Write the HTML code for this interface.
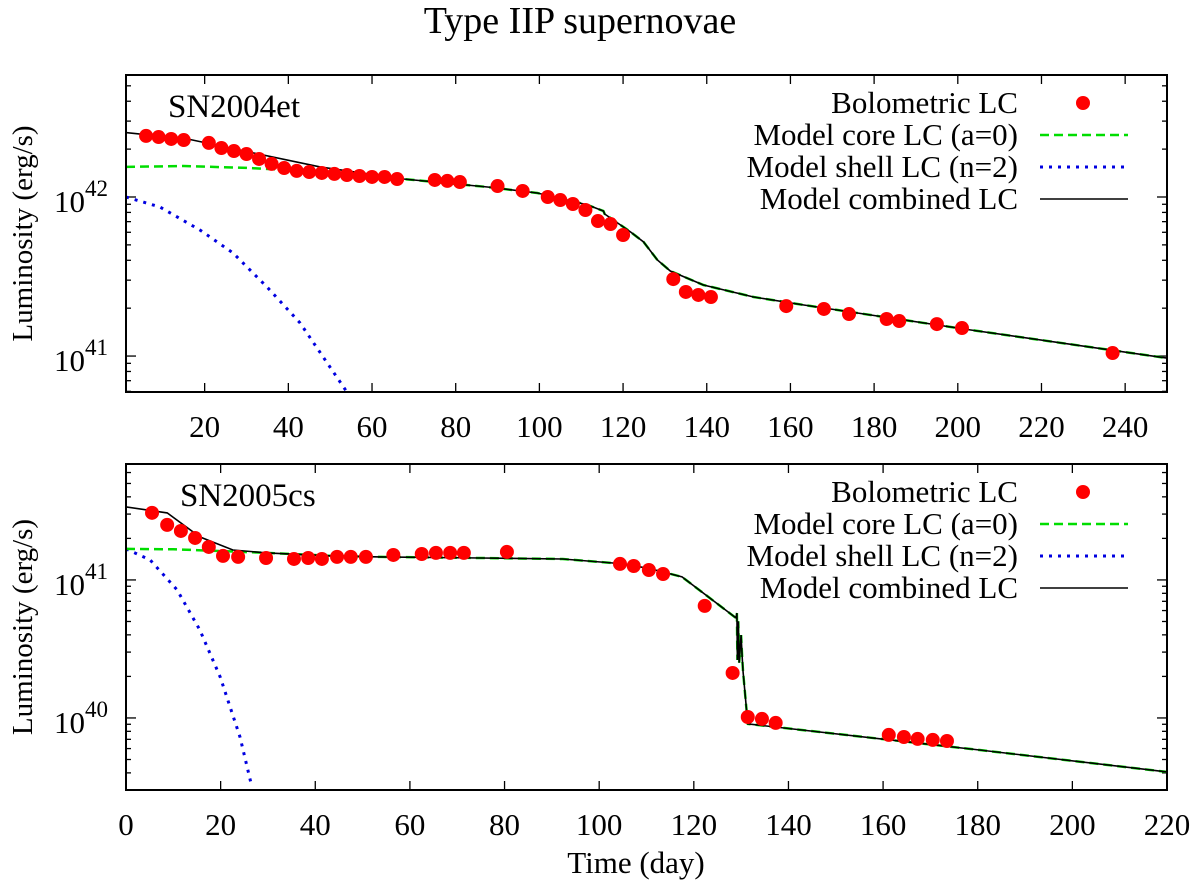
<!DOCTYPE html>
<html><head><meta charset="utf-8"><title>Type IIP supernovae</title>
<style>html,body{margin:0;padding:0;background:#fff}svg{display:block}svg text{font-family:"Liberation Serif","DejaVu Serif",serif !important;fill:#000}</style>
</head><body>
<svg id="chart" width="1200" height="892" viewBox="0 0 1200 892" xmlns="http://www.w3.org/2000/svg" font-family="Liberation Serif, DejaVu Serif, serif">
<text x="580" y="33" font-size="38" text-anchor="middle" font-family="Liberation Serif, serif">Type IIP supernovae</text>
<text x="636" y="873" font-size="31" text-anchor="middle" font-family="Liberation Serif, serif">Time (day)</text>
</svg>
<script>
// ---- Panel 1: SN2004et ----
const p1ObsDays=[6,9,12,15,21,24,27,30,33,36,39,42,45,48,51,54,57,60,63,66,75,78,81,90,96,102,105,108,111,114,117,120,132,135,138,141,159,168,174,183,186,195,201,237];
const p1ObsLog=[42.384,42.377,42.365,42.358,42.340,42.308,42.289,42.270,42.239,42.208,42.182,42.164,42.157,42.151,42.145,42.138,42.132,42.126,42.126,42.113,42.107,42.101,42.094,42.069,42.038,42.000,41.981,41.956,41.918,41.849,41.830,41.761,41.484,41.403,41.384,41.371,41.314,41.296,41.264,41.233,41.220,41.201,41.176,41.019];
const p1CombDays=[1.2,15.8,31.6,47.6,67.5,87.6,99.5,111.5,115.3,115.6,121.8,124.9,128.2,131.3,139.2,151.2,163.2,179.2,203.1,250];
const p1CombLog=[42.405,42.365,42.277,42.189,42.113,42.063,42.025,41.950,41.912,41.893,41.780,41.717,41.604,41.535,41.447,41.371,41.321,41.258,41.164,40.987];
const p1CoreDays=[1.2,15,30,47.6,60,67.5,87.6,99.5,111.5,115.3,115.6,121.8,124.9,128.2,131.3,139.2,151.2,163.2,179.2,203.1,250];
const p1CoreLog=[42.189,42.195,42.183,42.159,42.135,42.113,42.063,42.025,41.950,41.912,41.893,41.780,41.717,41.604,41.535,41.447,41.371,41.321,41.258,41.164,40.987];
const p1ShellDays=[1.2,9.3,18.9,26.8,34.9,42.8,54];
const p1ShellLog=[42.0,41.937,41.792,41.648,41.434,41.208,40.774];
const p1XTicks=[20,40,60,80,100,120,140,160,180,200,220,240];
const p1YDecades=[41,42];

// ---- Panel 2: SN2005cs ----
const p2ObsDays=[5.5,8.7,11.6,14.6,17.5,20.5,23.7,29.6,35.5,38.5,41.4,44.6,47.5,50.7,56.5,62.5,65.5,68.5,71.4,80.5,104.4,107.3,110.5,113.5,122.3,128.2,131.4,134.4,137.3,161.2,164.4,167.3,170.5,173.5];
const p2ObsLog=[41.486,41.399,41.355,41.304,41.239,41.174,41.167,41.159,41.152,41.159,41.152,41.167,41.167,41.167,41.181,41.188,41.196,41.196,41.196,41.203,41.116,41.101,41.072,41.043,40.812,40.326,40.007,39.993,39.964,39.877,39.862,39.848,39.841,39.833];
const p2CombDays=[0,8.7,15.6,22.6,29.8,43.7,53.7,74.8,92.3,102.9,110.1,117.5,128.9,129.1,129.2,129.4,129.6,130.0,130.2,130.4,131.4,180.4,220];
const p2CombLog=[41.529,41.486,41.312,41.217,41.196,41.174,41.167,41.159,41.152,41.123,41.087,41.022,40.725,40.76,40.42,40.70,40.40,40.60,40.45,40.34,39.957,39.768,39.609];
const p2CoreDays=[0,10,20,29.8,43.7,53.7,74.8,92.3,102.9,110.1,117.5,128.9,129.1,129.2,129.4,129.6,130.0,130.2,130.4,131.4,180.4,220];
const p2CoreLog=[41.225,41.222,41.21,41.196,41.174,41.167,41.159,41.152,41.123,41.087,41.022,40.725,40.76,40.42,40.70,40.40,40.60,40.45,40.34,39.957,39.768,39.609];
const p2ShellDays=[0,5.1,10.8,15.6,19.9,24.1,26.6];
const p2ShellLog=[41.225,41.145,40.928,40.638,40.297,39.862,39.5];
const p2XTicks=[0,20,40,60,80,100,120,140,160,180,200,220];
const p2YDecades=[40,41];

const legendLabels=["Bolometric LC","Model core LC (a=0)","Model shell LC (n=2)","Model combined LC"];

const NS="http://www.w3.org/2000/svg";
const svg=document.getElementById('chart');
const FONT="Liberation Serif, serif";
function mk(tag,attrs,parent){const e=document.createElementNS(NS,tag);for(const k in attrs)e.setAttribute(k,attrs[k]);if(tag==='text')e.setAttribute('font-family',FONT);(parent||svg).appendChild(e);return e;}

function panel(cfg){
  const g=mk('g',{});
  
  
  const L=cfg.left,R=cfg.right,T=cfg.top,B=cfg.bottom;
  const xs=d=>L+(d-cfg.xmin)/(cfg.xmax-cfg.xmin)*(R-L);
  const ys=v=>B-(v-cfg.ymin)/(cfg.ymax-cfg.ymin)*(B-T);
  const clip=mk('clipPath',{id:cfg.name+'-clip'},g);
  mk('rect',{x:L,y:T,width:R-L,height:B-T},clip);
  const tk=mk('g',{stroke:'#000','stroke-width':1.3},g);
  
  
  cfg.xticks.forEach(t=>{
    const x=xs(t);
    mk('line',{x1:x,y1:B,x2:x,y2:B-9},tk);
    mk('line',{x1:x,y1:T,x2:x,y2:T+9},tk);
    const lb=mk('text',{x:x,y:B+45,'font-size':31,'text-anchor':'middle'},g);
    lb.textContent=t;
    
    
  });
  for(let dec=Math.floor(cfg.ymin);dec<=cfg.ymax;dec++){
    for(let m=1;m<=9;m++){
      const v=dec+Math.log10(m);
      if(v<cfg.ymin-1e-6||v>cfg.ymax+1e-6)continue;
      const y=ys(v),len=m===1?10:5;
      mk('line',{x1:L,y1:y,x2:L+len,y2:y},tk);
      mk('line',{x1:R,y1:y,x2:R-len,y2:y},tk);
    }
  }
  cfg.ydec.forEach(d=>{
    const y=ys(d);
    const t=mk('text',{x:108,y:y+15,'font-size':31,'text-anchor':'end'},g);
    
    
    const a=mk('tspan',{},t);a.textContent='10';
    const b=mk('tspan',{dy:-16,'font-size':23},t);b.textContent=d;
  });
  const yt=mk('text',{x:0,y:0,'font-size':29,'text-anchor':'middle',transform:`translate(32,${(T+B)/2}) rotate(-90)`},g);
  yt.textContent='Luminosity (erg/s)';
  
  
  const nm=mk('text',{x:cfg.labelX,y:cfg.labelY,'font-size':33},g);
  nm.textContent=cfg.title;
  
  
  const cg=mk('g',{'clip-path':`url(#${cfg.name}-clip)`},g);
  function line(days,vals,attrs,name){
    const pts=days.map((d,i)=>xs(d).toFixed(1)+','+ys(vals[i]).toFixed(1)).join(' ');
    const p=mk('polyline',Object.assign({points:pts,fill:'none'},attrs),cg);
    
    
  }
  line(cfg.shellD,cfg.shellV,{stroke:'#0000e0','stroke-width':3,'stroke-dasharray':'3,6'},'shell-model-line');
  line(cfg.coreD,cfg.coreV,{stroke:'#00dd00','stroke-width':2.5,'stroke-dasharray':'9,5'},'core-model-line');
  line(cfg.combD,cfg.combV,{stroke:'#000','stroke-width':1.6},'combined-model-line');
  cfg.obsD.forEach((d,i)=>{
    const c=mk('circle',{cx:xs(d),cy:ys(cfg.obsV[i]),r:7,fill:'#ff0000'},cg);
    
    
  });
  const fr=mk('rect',{x:L,y:T,width:R-L,height:B-T,fill:'none',stroke:'#000','stroke-width':2},g);
  
  
  const lg=mk('g',{},g);
  
  
  legendLabels.forEach((s,i)=>{
    const y=cfg.legY+i*32;
    const t=mk('text',{x:1018,y:y+10,'font-size':31,'text-anchor':'end'},lg);
    t.textContent=s;
    
    
    let sm;
    if(i===0)sm=mk('circle',{cx:1083,cy:y,r:7,fill:'#ff0000'},lg);
    else if(i===1)sm=mk('line',{x1:1040,y1:y,x2:1128,y2:y,stroke:'#00dd00','stroke-width':2.5,'stroke-dasharray':'9,5'},lg);
    else if(i===2)sm=mk('line',{x1:1040,y1:y,x2:1124,y2:y,stroke:'#0000e0','stroke-width':3,'stroke-dasharray':'3,6'},lg);
    else sm=mk('line',{x1:1040,y1:y,x2:1128,y2:y,stroke:'#000','stroke-width':1.6},lg);
    
    
  });
}
panel({name:'panel-sn2004et',title:'SN2004et',left:126,right:1167,top:75,bottom:392,xmin:1.2,xmax:250,ymin:40.774,ymax:42.767,
  xticks:p1XTicks,ydec:p1YDecades,labelX:168,labelY:117,legY:103,
  obsD:p1ObsDays,obsV:p1ObsLog,combD:p1CombDays,combV:p1CombLog,coreD:p1CoreDays,coreV:p1CoreLog,shellD:p1ShellDays,shellV:p1ShellLog});
panel({name:'panel-sn2005cs',title:'SN2005cs',left:126,right:1167,top:464,bottom:790,xmin:0,xmax:220,ymin:39.478,ymax:41.84,
  xticks:p2XTicks,ydec:p2YDecades,labelX:180,labelY:506,legY:492,
  obsD:p2ObsDays,obsV:p2ObsLog,combD:p2CombDays,combV:p2CombLog,coreD:p2CoreDays,coreV:p2CoreLog,shellD:p2ShellDays,shellV:p2ShellLog});
</script>
</body></html>
